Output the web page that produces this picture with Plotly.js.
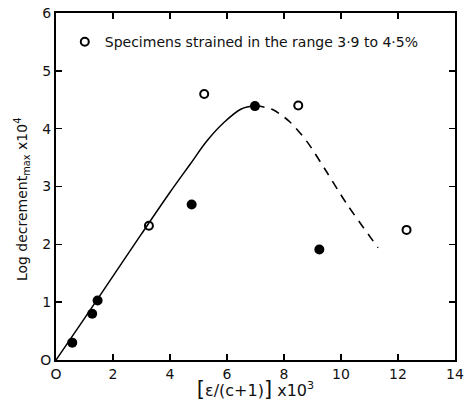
<!DOCTYPE html>
<html>
<head>
<meta charset="utf-8">
<script src="https://cdn.plot.ly/plotly-3.0.1.min.js"></script>
<style>html,body{margin:0;padding:0;background:#fff}#chart{width:467px;height:401px}</style>
</head>
<body>
<div id="chart"></div>
<script>
// Filled points
const filledX = [0.57, 1.27, 1.46, 4.76, 6.98, 9.24];
const filledY = [0.30, 0.80, 1.03, 2.69, 4.39, 1.91];
// Open points: specimens strained in the range 3.9 to 4.5%
const openX = [3.26, 5.20, 8.50, 12.30];
const openY = [2.32, 4.60, 4.40, 2.25];
// Fitted curve, solid part
const solidX = [0, 1.0, 2.0, 3.0, 4.0, 4.7, 5.3, 5.9, 6.5, 7.0];
const solidY = [0, 0.72, 1.45, 2.18, 2.90, 3.38, 3.79, 4.11, 4.34, 4.40];
// Fitted curve, dashed part
const dashX = [7.0, 7.6, 8.2, 8.8, 9.5, 10.2, 11.3];
const dashY = [4.40, 4.33, 4.12, 3.78, 3.25, 2.70, 1.94];
const xTicks = [0, 2, 4, 6, 8, 10, 12, 14];
const xTickText = ['O', '2', '4', '6', '8', '10', '12', '14'];
const yTicks = [0, 1, 2, 3, 4, 5, 6];
const yTickText = ['O', '1', '2', '3', '4', '5', '6'];
const legendText = 'Specimens strained in the range 3·9 to 4·5%';
const yTitle = 'Log decrement<sub>max</sub> x10<sup>4</sup>';

const font = 'DejaVu Sans, sans-serif';
const traces = [
  {x: solidX, y: solidY, mode: 'lines', line: {color: '#000', width: 1.5, shape: 'spline', smoothing: 1}, showlegend: false, hoverinfo: 'skip'},
  {x: dashX, y: dashY, mode: 'lines', line: {color: '#000', width: 1.6, shape: 'spline', smoothing: 0.8, dash: '9px,7px'}, showlegend: false, hoverinfo: 'skip'},
  {x: filledX, y: filledY, mode: 'markers', marker: {symbol: 'circle', size: 10, color: '#000'}, showlegend: false},
  {x: openX, y: openY, mode: 'markers', name: legendText, marker: {symbol: 'circle-open', size: 8, color: '#000', line: {width: 2, color: '#000'}}, showlegend: true}
];
const layout = {
  width: 467, height: 401,
  margin: {l: 56, r: 12, t: 13, b: 41},
  paper_bgcolor: '#fff', plot_bgcolor: '#fff',
  font: {family: font, color: '#111', size: 13},
  showlegend: true,
  legend: {x: 0.022, y: 0.916, xanchor: 'left', yanchor: 'middle', bgcolor: 'rgba(0,0,0,0)', font: {size: 14, family: font, color: '#111'}, itemwidth: 30, tracegroupgap: 0},
  xaxis: {
    range: [0, 14], tickvals: xTicks, ticktext: xTickText, ticks: 'inside', ticklen: 6, tickwidth: 1.5, tickcolor: '#000',
    showline: true, linecolor: '#000', linewidth: 2, mirror: 'ticks', showgrid: false, zeroline: false,
    tickfont: {size: 14, family: font, color: '#111'},
    title: {text: '<span style="font-size:21px">[</span>ε/(c+1)<span style="font-size:21px">]</span> x10<sup>3</sup>', font: {size: 16, family: font, color: '#111'}, standoff: 0}
  },
  yaxis: {
    range: [0, 6], tickvals: yTicks, ticktext: yTickText, ticks: 'inside', ticklen: 6, tickwidth: 1.5, tickcolor: '#000',
    showline: true, linecolor: '#000', linewidth: 2, mirror: 'ticks', showgrid: false, zeroline: false,
    tickfont: {size: 14, family: font, color: '#111'}
  },
  annotations: [{
    text: yTitle, xref: 'paper', yref: 'paper', x: -0.085, y: 0.461, xanchor: 'center', yanchor: 'middle',
    textangle: -90, showarrow: false, font: {size: 14, family: font, color: '#111'}
  }]
};
Plotly.newPlot('chart', traces, layout, {displayModeBar: false, staticPlot: true});
</script>
</body>
</html>
